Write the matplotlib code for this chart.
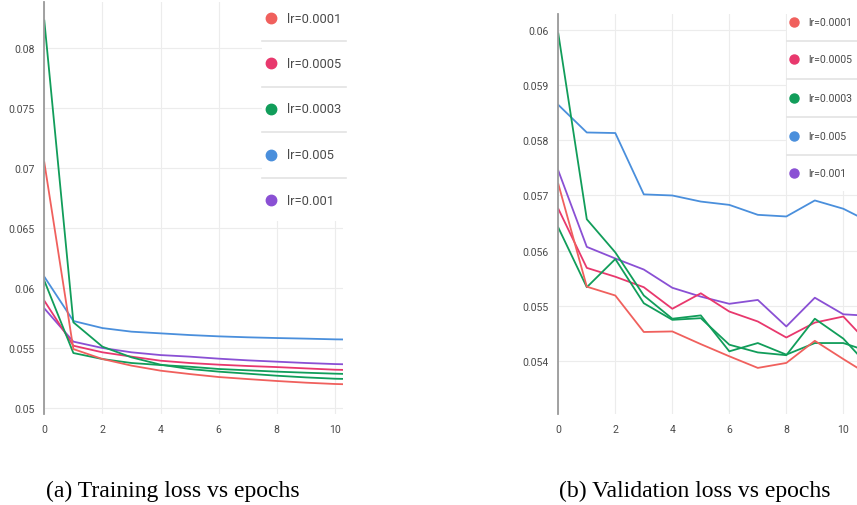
import matplotlib
matplotlib.use("Agg")
import matplotlib.pyplot as plt
from matplotlib.patches import Rectangle
from matplotlib.lines import Line2D

epochs = list(range(12))

# Training loss (left panel)
train_lr0001 = [0.0705, 0.05494, 0.05411, 0.05356, 0.05314, 0.05286, 0.05261, 0.05244, 0.05228, 0.05214, 0.05203, 0.05197]
train_lr0005 = [0.05897, 0.05522, 0.05467, 0.05431, 0.05397, 0.05378, 0.05364, 0.05353, 0.05344, 0.05333, 0.05322, 0.05317]
train_lr0003a = [0.08231, 0.05717, 0.05514, 0.05425, 0.05364, 0.05328, 0.05306, 0.05289, 0.05272, 0.05258, 0.05247, 0.05242]
train_lr0003b = [0.06064, 0.05461, 0.05411, 0.05378, 0.05361, 0.05347, 0.05328, 0.05317, 0.05306, 0.05297, 0.05289, 0.05283]
train_lr005 = [0.06097, 0.05728, 0.05669, 0.05639, 0.05625, 0.05611, 0.05600, 0.05592, 0.05586, 0.05581, 0.05575, 0.05572]
train_lr001 = [0.05833, 0.05556, 0.05503, 0.05467, 0.05444, 0.05431, 0.05414, 0.05400, 0.05389, 0.05378, 0.05369, 0.05364]

# Validation loss (right panel)
val_lr0001 = [0.05721, 0.05535, 0.05519, 0.05453, 0.05454, 0.05431, 0.05409, 0.05388, 0.05397, 0.05437, 0.05404, 0.05372]
val_lr0005 = [0.05676, 0.05569, 0.05553, 0.05534, 0.05495, 0.05523, 0.05490, 0.05472, 0.05443, 0.05470, 0.05481, 0.05426]
val_lr0003a = [0.05993, 0.05657, 0.05597, 0.05519, 0.05477, 0.05483, 0.05418, 0.05433, 0.05412, 0.05433, 0.05433, 0.05416]
val_lr0003b = [0.05642, 0.05534, 0.05585, 0.05505, 0.05475, 0.05478, 0.05430, 0.05416, 0.05411, 0.05477, 0.05441, 0.05385]
val_lr005 = [0.05864, 0.05814, 0.05813, 0.05702, 0.05700, 0.05689, 0.05683, 0.05665, 0.05662, 0.05691, 0.05676, 0.05650]
val_lr001 = [0.05745, 0.05607, 0.05586, 0.05566, 0.05533, 0.05517, 0.05504, 0.05511, 0.05463, 0.05515, 0.05485, 0.05482]

legend_labels = ["lr=0.0001", "lr=0.0005", "lr=0.0003", "lr=0.005", "lr=0.001"]
xticks = [0, 2, 4, 6, 8, 10]
train_yticks = [0.05, 0.055, 0.06, 0.065, 0.07, 0.075, 0.08]
train_yticklabels = ["0.05", "0.055", "0.06", "0.065", "0.07", "0.075", "0.08"]
val_yticks = [0.054, 0.055, 0.056, 0.057, 0.058, 0.059, 0.06]
val_yticklabels = ["0.054", "0.055", "0.056", "0.057", "0.058", "0.059", "0.06"]
captions = ["(a) Training loss vs epochs", "(b) Validation loss vs epochs"]

C_0001 = "#f0605d"
C_0005 = "#e8386d"
C_0003 = "#119d5a"
C_005 = "#4a8fdc"
C_001 = "#8a50d4"
legend_colors = [C_0001, C_0005, C_0003, C_005, C_001]

W, H = 857, 506
fig = plt.figure(figsize=(W / 100, H / 100), dpi=100)
fig.patch.set_facecolor("white")

def fx(px):
    return px / W

def fy(py):
    return 1 - py / H

ax1 = fig.add_axes([fx(44.3), fy(415), fx(343.3 - 44.3), (415 - 3) / H])
ax2 = fig.add_axes([fx(558.3), fy(415), fx(857 - 558.3), (415 - 15) / H])

def style(ax, yticks, ylabels, xmax, ylim):
    ax.set_xlim(0, xmax)
    ax.set_ylim(*ylim)
    ax.set_xticks(xticks)
    ax.set_xticklabels([str(t) for t in xticks])
    ax.set_yticks(yticks)
    ax.set_yticklabels(ylabels)
    for s in ["top", "right", "bottom"]:
        ax.spines[s].set_visible(False)
    ax.spines["left"].set_color("#9a9a9a")
    ax.spines["left"].set_linewidth(1.3)
    ax.grid(True, color="#ececec", linewidth=0.8)
    ax.set_axisbelow(True)
    ax.tick_params(length=0, labelsize=7.6, colors="#4a4a4a", pad=7)
    for lab in ax.get_xticklabels() + ax.get_yticklabels():
        lab.set_fontfamily("Roboto")

lw = 1.3
ax1.plot(epochs, train_lr005, color=C_005, lw=lw)
ax1.plot(epochs, train_lr001, color=C_001, lw=lw)
ax1.plot(epochs, train_lr0005, color=C_0005, lw=lw)
ax1.plot(epochs, train_lr0003b, color=C_0003, lw=lw)
ax1.plot(epochs, train_lr0003a, color=C_0003, lw=lw)
ax1.plot(epochs, train_lr0001, color=C_0001, lw=lw)
style(ax1, train_yticks, train_yticklabels, 10.285, (0.04953, 0.08386))

ax2.plot(epochs, val_lr005, color=C_005, lw=lw)
ax2.plot(epochs, val_lr001, color=C_001, lw=lw)
ax2.plot(epochs, val_lr0005, color=C_0005, lw=lw)
ax2.plot(epochs, val_lr0003b, color=C_0003, lw=lw)
ax2.plot(epochs, val_lr0003a, color=C_0003, lw=lw)
ax2.plot(epochs, val_lr0001, color=C_0001, lw=lw)
style(ax2, val_yticks, val_yticklabels, 10.48, (0.053046, 0.060284))

def legend(x0, x1, ybottom, entry_y, sep_y, marker_x, text_x, fsize, msize):
    fig.patches.append(Rectangle((fx(x0), fy(ybottom)), fx(x1 - x0), ybottom / H,
                                 transform=fig.transFigure, facecolor="white",
                                 edgecolor="none", zorder=2))
    for sy in sep_y:
        fig.lines.append(Line2D([fx(x0), fx(x1)], [fy(sy), fy(sy)], transform=fig.transFigure,
                                color="#e3e3e3", lw=1.2, zorder=3))
    for lab, col, ey in zip(legend_labels, legend_colors, entry_y):
        fig.lines.append(Line2D([fx(marker_x)], [fy(ey)], transform=fig.transFigure,
                                marker="o", markersize=msize, color=col, lw=0, zorder=4))
        fig.text(fx(text_x), fy(ey), lab, fontsize=fsize, family="Roboto", color="#4a4a4a",
                 va="center", ha="left", zorder=4)

legend(262, 346, 222, [19.3, 64.3, 110, 155.7, 201.3], [42.3, 87.7, 133.3, 179],
       270.7, 286.7, 9.3, 7.5)
legend(786.7, 857, 192, [22.7, 60.3, 98.7, 136.7, 174.3], [42, 80, 118, 156],
       794.3, 808.3, 7.6, 6.5)

fig.text(fx(172.5), fy(491), captions[0], family="Liberation Serif", fontsize=17,
         ha="center", va="center", color="black")
fig.text(fx(695), fy(491), captions[1], family="Liberation Serif", fontsize=17,
         ha="center", va="center", color="black")

fig.savefig("out.png", dpi=100, facecolor="white")
